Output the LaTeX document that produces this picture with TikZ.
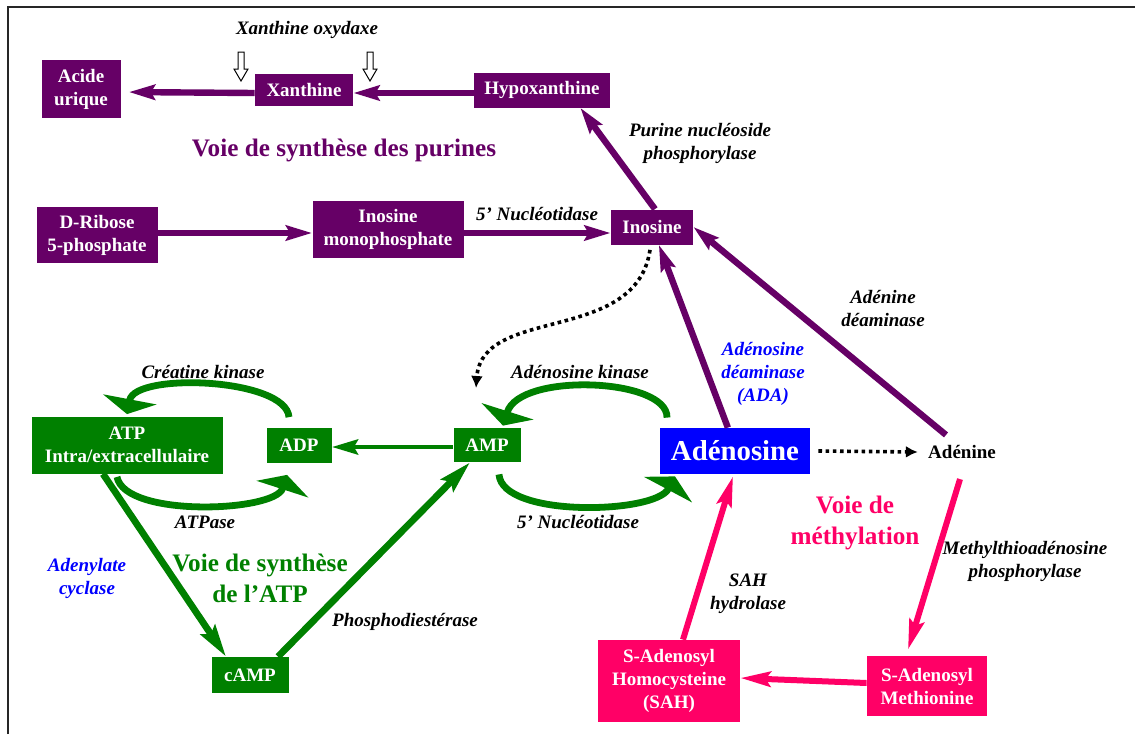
\documentclass[tikz,border=0pt]{standalone}
\usepackage{fontspec}
\setmainfont{Liberation Serif}
\usetikzlibrary{arrows.meta}
\definecolor{purp}{HTML}{660066}
\definecolor{grn}{HTML}{008000}
\definecolor{pnk}{HTML}{FF0066}
\definecolor{blu}{HTML}{0000FF}

\begin{document}
\begin{tikzpicture}[x=0.5pt,y=-0.5pt,>=Stealth,
  font=\bfseries\fontsize{9.5}{11.5}\selectfont,
  box/.style={fill=#1,text=white,align=center,inner sep=0pt},
  enz/.style={font=\bfseries\itshape\fontsize{9.5}{11.5}\selectfont,align=center},
  voie/.style={font=\bfseries\fontsize{12.6}{15.5}\selectfont,align=center},
  head/.style={-{Stealth[length=13pt,width=7.5pt,inset=2pt]}},
  parr/.style={draw=purp,line width=3.2pt,head},
  garr/.style={draw=grn,line width=3.4pt,-{Stealth[length=16pt,width=8.5pt,inset=2.5pt]}},
  karr/.style={draw=pnk,line width=3pt,-{Stealth[length=15pt,width=7.5pt,inset=2.5pt]}},
  arc/.style={draw=grn,line width=3.4pt,-{Stealth[length=7.5pt,width=27pt,inset=0pt]}},
  dots/.style={line width=1.8pt,dash pattern=on 1.8pt off 1.8pt,-{Latex[length=6pt,width=6pt]}}]
\useasboundingbox (0,0) rectangle (1135,734);
\draw[line width=1pt,black!85] (8,734) -- (8,7) -- (1135,7);

% voie des purines
\node[box=purp,minimum width=39.5pt,minimum height=29pt] (acide) at (81,89) {Acide\\urique};
\node[box=purp,minimum width=49pt,minimum height=16pt] (xan) at (304,90) {Xanthine};
\node[box=purp,minimum width=68pt,minimum height=17.5pt] (hypo) at (542,90) {Hypoxanthine};
\node[box=purp,minimum width=60.5pt,minimum height=28pt] (ribose) at (97,235) {D-Ribose\\5-phosphate};
\node[box=purp,minimum width=75.5pt,minimum height=28.5pt] (imp) at (388,229) {Inosine\\monophosphate};
\node[box=purp,minimum width=41pt,minimum height=17.5pt] (ino) at (652,227) {Inosine};
\node[text=purp,voie] (vpur) at (344,150) {Voie de synth\`ese des purines};

\draw[parr] ([yshift=-1.5pt]hypo.west) -- ([yshift=-1.5pt]xan.east);
\draw[parr,shorten >=4pt] ([yshift=-1.5pt]xan.west) -- ([yshift=-1.5pt]acide.east);
\draw[parr] (ribose.east |- imp) ++(0,4) coordinate (r1) -- (imp.west |- r1);
\draw[parr] ([yshift=-2pt]imp.east) -- ([yshift=-3pt]ino.west);
\draw[parr] ([xshift=1.5pt]ino.north) -- (hypo.-25);

\node[enz] (xo) at (307,30) {Xanthine oxydaxe};
\foreach \x in {241,370}
  \draw[fill=white,line width=0.5pt] (\x-3,52) -- (\x+3,52) -- (\x+3,69) -- (\x+7,69)
    -- (\x,81) -- (\x-7,69) -- (\x-3,69) -- cycle;
\node[enz] (pnp) at (700,143) {Purine nucl\'eoside\\phosphorylase};
\node[enz] (nt1) at (537,214) {5’ Nucl\'eotidase};

% adenosine
\node[box=blu,minimum width=75pt,minimum height=23pt,
  font=\bfseries\fontsize{14.4}{16}\selectfont] (ado) at (735,451) {Ad\'enosine};
\node[inner sep=1pt] (ade) at (962,452) {Ad\'enine};

\draw[parr] (ado.107) -- (ino.-69);
\draw[parr] ([xshift=-8pt,yshift=4pt]ade.north) -- (ino.east);
\draw[dots] ([xshift=4pt]ado.east) -- ([xshift=-4pt]ade.west);
\coordinate (ampdot) at (476,388);
\draw[dots] ([xshift=-1pt,yshift=-2.5pt]ino.south) .. controls (636,345) and (482,305) .. (ampdot);

\node[enz,text=blu] (ada) at (763,374) {Ad\'enosine\\d\'eaminase\\(ADA)};
\node[enz] (adeam) at (883,308) {Ad\'enine\\d\'eaminase};

% voie de l'ATP
\node[box=grn,minimum width=95.5pt,minimum height=28.5pt] (atp) at (127,445) {ATP\\Intra/extracellulaire};
\node[box=grn,minimum width=32.5pt,minimum height=17.5pt] (adp) at (299,445) {ADP};
\node[box=grn,minimum width=33.5pt,minimum height=17pt] (amp) at (487,445) {AMP};
\node[box=grn,minimum width=38.5pt,minimum height=18pt] (camp) at (250,675) {cAMP};
\node[text=grn,voie] (vatp) at (260,578) {Voie de synth\`ese\\de l’ATP};

\draw[draw=grn,line width=2.4pt,head] ([yshift=-1pt]amp.west) -- ([yshift=-1pt]adp.east);
\draw[garr] ([xshift=-12pt]atp.south) -- ([xshift=-12pt]camp.north);
\draw[garr] ([xshift=14pt]camp.north) -- ([xshift=-8.5pt]amp.south);

\draw[arc] ([xshift=-5pt,yshift=5pt]adp.north) .. controls (286,378) and (135,372) .. ([yshift=1pt]atp.north);
\draw[arc] ([xshift=-5pt,yshift=-1.5pt]atp.south) .. controls (125,518) and (275,512) .. ([xshift=-6pt,yshift=-6pt]adp.south);
\draw[arc] ([xshift=-34pt,yshift=5pt]ado.north) .. controls (668,378) and (520,372) .. ([xshift=8pt,yshift=1pt]amp.north);
\draw[arc] ([xshift=6pt,yshift=-6pt]amp.south) .. controls (502,518) and (655,514) .. ([xshift=-30pt,yshift=-1pt]ado.south);

\node[enz] (ck) at (203,372) {Cr\'eatine kinase};
\node[enz] (atpase) at (205,522) {ATPase};
\node[enz] (ak) at (580,372) {Ad\'enosine kinase};
\node[enz] (nt2) at (578,522) {5’ Nucl\'eotidase};
\node[enz,text=blu] (ac) at (87,578) {Adenylate\\cyclase};
\node[enz] (pde) at (405,622) {Phosphodiest\'erase};

% voie de methylation
\node[box=pnk,minimum width=71pt,minimum height=41pt] (sah) at (669,681) {S-Adenosyl\\Homocysteine\\(SAH)};
\node[box=pnk,minimum width=60pt,minimum height=30pt] (sam) at (927,686) {S-Adenosyl\\Methionine};
\node[text=pnk,voie] (vmet) at (855,523) {Voie de\\m\'ethylation};

\draw[karr] ([yshift=1.5pt]sam.west) -- ([yshift=1.5pt]sah.east);
\draw[karr] ([xshift=7pt]sah.north) -- ([xshift=-1pt,yshift=-1pt]ado.south);
\draw[karr] ([xshift=-1pt,yshift=-9pt]ade.south) -- ([xshift=-9.5pt,yshift=3pt]sam.north);

\node[enz] (sahh) at (748,594) {SAH\\hydrolase};
\node[enz] (mtap) at (1025,561) {Methylthioad\'enosine\\phosphorylase};
\end{tikzpicture}
\end{document}
